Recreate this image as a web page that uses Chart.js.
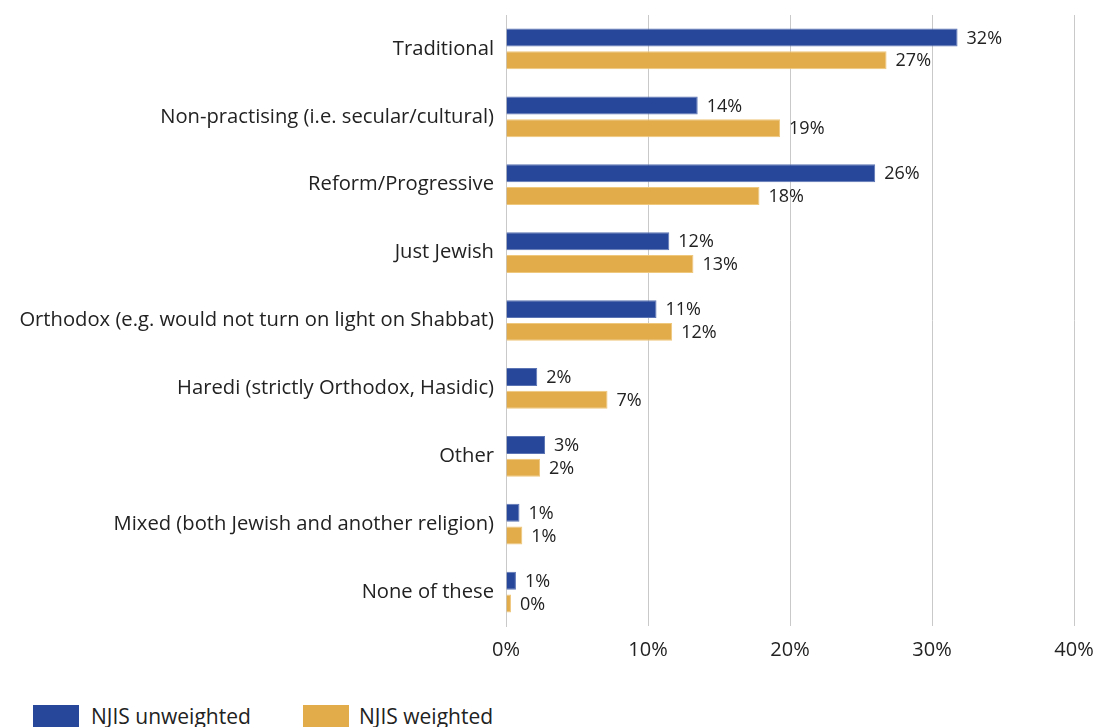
<!DOCTYPE html>
<html>
<head>
<meta charset="utf-8">
<script src="https://cdn.jsdelivr.net/npm/chart.js@4"></script>
<style>
  html, body { margin: 0; padding: 0; background: #fff; width: 1100px; height: 727px; overflow: hidden; }
  #wrap { position: relative; width: 1100px; height: 727px; }
  #chart { position: absolute; left: 0; top: 0; }
  .legend { position: absolute; top: 705px; font-family: "Open Sans", sans-serif; font-size: 21px; color: #222; }
  .legend .sw { position: absolute; left: 0; top: 0; width: 46px; height: 26px; }
  .legend .tx { position: absolute; top: -4px; white-space: nowrap; line-height: 30px; }
</style>
</head>
<body>
<div id="wrap">
  <canvas id="chart" width="1100" height="690"></canvas>
  <div class="legend" style="left:33px"><div class="sw" id="sw0"></div><div class="tx" id="tx0" style="left:58px"></div></div>
  <div class="legend" style="left:303px"><div class="sw" id="sw1"></div><div class="tx" id="tx1" style="left:56px"></div></div>
</div>
<script>
// Denominational self-description, share of respondents (%)
const categories = [
  "Traditional",
  "Non-practising (i.e. secular/cultural)",
  "Reform/Progressive",
  "Just Jewish",
  "Orthodox (e.g. would not turn on light on Shabbat)",
  "Haredi (strictly Orthodox, Hasidic)",
  "Other",
  "Mixed (both Jewish and another religion)",
  "None of these"
];
const seriesNames = ["NJIS unweighted", "NJIS weighted"];
const unweighted = [31.8, 13.5, 26.0, 11.5, 10.6, 2.2, 2.75, 0.95, 0.7];
const weighted   = [26.8, 19.3, 17.85, 13.2, 11.7, 7.15, 2.4, 1.15, 0.35];
const xTicks = [0, 10, 20, 30, 40];

const BLUE = "#27479a";
const GOLD = "#e2ac4a";
const TEXT = "#222222";
const GRID = "#c9c9c9";
const FONT = "'Open Sans', sans-serif";

// Legend swatches and names
document.getElementById("sw0").style.background = BLUE;
document.getElementById("sw1").style.background = GOLD;
document.getElementById("tx0").textContent = seriesNames[0];
document.getElementById("tx1").textContent = seriesNames[1];

// Percentage labels at the end of each bar
const valueLabels = {
  id: "valueLabels",
  afterDatasetsDraw(chart) {
    const ctx = chart.ctx;
    ctx.save();
    ctx.font = "18px " + FONT;
    ctx.fillStyle = TEXT;
    ctx.textAlign = "left";
    ctx.textBaseline = "middle";
    chart.data.datasets.forEach((ds, di) => {
      const meta = chart.getDatasetMeta(di);
      meta.data.forEach((bar, i) => {
        const v = ds.data[i];
        ctx.fillText(Math.round(v) + "%", bar.x + 9, bar.y + 1);
      });
    });
    ctx.restore();
  }
};

new Chart(document.getElementById("chart"), {
  type: "bar",
  data: {
    labels: categories,
    datasets: [
      { label: seriesNames[0], data: unweighted, backgroundColor: BLUE, borderColor: "#5b74b4", borderWidth: 1 },
      { label: seriesNames[1], data: weighted, backgroundColor: GOLD, borderColor: "#efc77d", borderWidth: 1 }
    ]
  },
  options: {
    indexAxis: "y",
    responsive: false,
    animation: false,
    events: [],
    categoryPercentage: 0.67,
    barPercentage: 0.79,
    layout: { padding: { top: 15, right: 26, left: 0, bottom: 0 } },
    plugins: {
      legend: { display: false },
      tooltip: { enabled: false }
    },
    scales: {
      x: {
        min: 0,
        max: 40,
        afterBuildTicks(scale) { scale.ticks = xTicks.map(v => ({ value: v })); },
        afterFit(scale) {
          scale.height = 64;
          scale.paddingLeft = 0;
          scale.paddingRight = 0;
        },
        ticks: {
          callback: v => v + "%",
          color: TEXT,
          font: { family: FONT, size: 20 },
          padding: 12,
          maxRotation: 0
        },
        grid: { color: GRID, lineWidth: 1, drawTicks: false },
        border: { display: false }
      },
      y: {
        afterFit(scale) {
          scale.width = 506;
          scale.paddingTop = 0;
          scale.paddingBottom = 0;
        },
        ticks: {
          color: TEXT,
          font: { family: FONT, size: 20.2 },
          padding: 12
        },
        grid: { display: false, drawTicks: false },
        border: { display: true, color: GRID, width: 1 }
      }
    }
  },
  plugins: [valueLabels]
});
</script>
</body>
</html>
